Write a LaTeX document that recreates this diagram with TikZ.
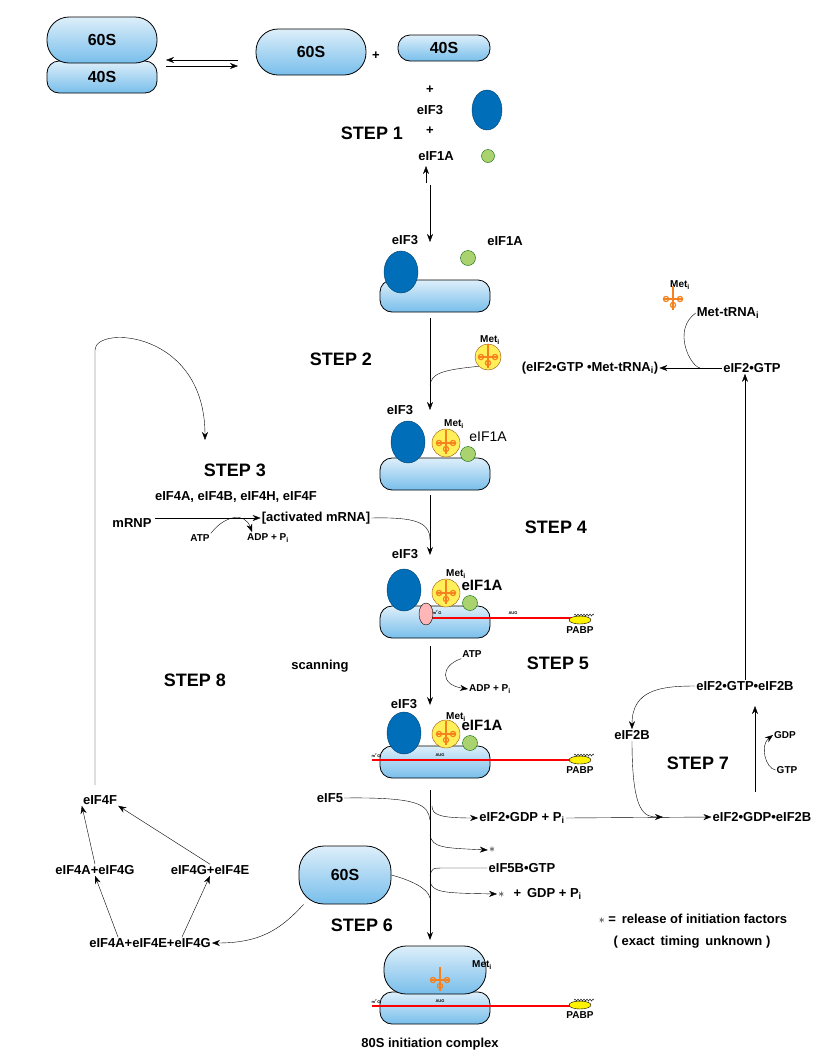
\documentclass[tikz,border=0pt]{standalone}
\usepackage{fontspec}
\setmainfont{Liberation Sans}
\setsansfont{Liberation Sans}
\usetikzlibrary{shapes.geometric,decorations.pathmorphing,arrows.meta}
\definecolor{eifblue}{RGB}{0,110,185}
\definecolor{ribo}{RGB}{120,190,235}
\definecolor{eifgreen}{RGB}{170,210,110}
\definecolor{eifyellow}{RGB}{255,240,90}
\definecolor{trnaor}{RGB}{245,130,30}
\tikzset{
  sub/.style={draw, thick, rounded corners=12pt, top color=ribo!25, middle color=ribo!50,
    bottom color=ribo, inner sep=0pt, font=\sffamily\bfseries\fontsize{16}{18}\selectfont},
  s40/.style={sub, minimum width=110, minimum height=32},
  s60/.style={sub, rounded corners=22pt, minimum width=110, minimum height=46},
  f3/.style={ellipse, draw=eifblue!60!black, fill=eifblue, minimum width=34,
    minimum height=42, inner sep=0pt},
  f1/.style={circle, draw=green!40!black, fill=eifgreen, minimum size=15, inner sep=0pt},
  f2/.style={circle, draw=orange!60!black, fill=eifyellow, minimum size=28, inner sep=0pt},
  lbl/.style={font=\bfseries\fontsize{13}{15}\selectfont, inner sep=1pt},
  steplbl/.style={font=\bfseries\fontsize{18}{20}\selectfont},
  smalllbl/.style={font=\bfseries\fontsize{10}{12}\selectfont, inner sep=1pt},
  tinylbl/.style={font=\bfseries\fontsize{4}{5}\selectfont, inner sep=0pt},
  trna/.style={draw=trnaor, line width=1.2pt},
  arr/.style={-{Stealth[length=8pt,width=6pt]}},
  mrna/.style={red, line width=1.2pt},
  pabp/.style={ellipse, draw=black, fill=yellow, minimum width=22, minimum height=8, inner sep=0pt},
}
\newcommand\trnaicon[1]{%
  \draw[trna] (#1) ++(0,-13) -- ++(0,24);
  \draw[trna] (#1) ++(-10,0) -- ++(20,0);
  \foreach \d in {(-7,0),(7,0),(0,6)} \draw[trna] (#1) ++\d circle (2.6);}
\newcommand\pabpicon[1]{%
  \node[pabp] (#1) {};
  \draw[decorate, decoration={snake, amplitude=1pt, segment length=3pt}] (#1.north west) ++(2,-2) -- ++(20,0);
  \node[smalllbl, below=1pt] at (#1.south) {PABP};}
\begin{document}
\begin{tikzpicture}[x=1pt, y=-1pt]
  \useasboundingbox (0,0) rectangle (830,1050);
  % free subunits
  \node[s40] (c40) at (102,77) {40S};
  \node[s60] (c60) at (102,40) {60S};
  \coordinate (h1) at (238,60); \coordinate (h2) at (166,60);
  \coordinate (h3) at (166,66); \coordinate (h4) at (238,66);
  \draw[arr] (h1) -- (h2); \draw[arr] (h3) -- (h4);
  \node[s60] (f60) at (311,52) {60S};
  \node[lbl] (plus1) at (376,56) {+};
  \node[s40, minimum width=92, minimum height=26] (f40) at (444,48) {40S};
  % step 1
  \node[lbl] at (430,90) {+};
  \node[lbl] (l3) at (430,110) {eIF3};
  \node[f3, minimum width=30, minimum height=40] (e3) at (487,110) {};
  \node[lbl] at (430,131) {+};
  \node[steplbl] at (372,133) {STEP 1};
  \node[lbl] (l1a) at (436,156) {eIF1A};
  \node[f1, minimum size=13] at (488,156) {};
  \coordinate (v0) at (430,185); \coordinate (v1) at (430,242);
  \coordinate (v0b) at (426,183); \coordinate (v0c) at (426,166);
  \draw[arr] (v0b) -- (v0c);
  \draw[arr] (v0) -- (v1);
  % complex 1
  \node[lbl] at (405,240) {eIF3};
  \node[s40] (r1) at (435,296) {};
  \node[f3] (b1) at (401,272) {};
  \node[f1] (g1) at (468,258) {};
  \node[lbl] at (505,241) {eIF1A};
  % step 2
  \node[steplbl] at (341,359) {STEP 2};
  \node[smalllbl] at (680,285) {Met\textsubscript{i}};
  \coordinate (t0) at (673,299); \trnaicon{t0}
  \node[lbl] (mtrna) at (728,313) {Met-tRNA\textsubscript{i}};
  \node[lbl] (g2gtp) at (752,368) {eIF2•GTP};
  \node[lbl] (tc) at (590,368) {(eIF2•GTP •Met-tRNA\textsubscript{i})};
  \node[f2, minimum size=26] (y0) at (488,357) {};
  \coordinate (t1) at (488,357); \trnaicon{t1}
  \node[smalllbl] at (490,340) {Met\textsubscript{i}};
  \draw[arr] (g2gtp) -- (tc);
  \draw (mtrna.west) .. controls (672,330) and (690,366) .. (700,368);
  \coordinate (v2) at (430,318); \coordinate (v3) at (430,410);
  \coordinate (j2) at (430,385);
  \draw[arr] (v2) -- (v3);
  \draw (y0.south west) .. controls (440,370) and (432,374) .. (j2);
  % complex 2
  \node[lbl] at (400,410) {eIF3};
  \node[s40] (r2) at (435,474) {};
  \node[f3] (b2) at (408,442) {};
  \node[f2] (y2) at (446,443) {};
  \coordinate (t2) at (446,443); \trnaicon{t2}
  \node[f1] (g2) at (468,454) {};
  \node[smalllbl] at (454,424) {Met\textsubscript{i}};
  \node[font=\fontsize{14}{16}\selectfont] at (488,437) {eIF1A};
  % step 3
  \draw[arr] (95,785) -- (95,350) .. controls (95,325) and (205,330) .. (205,440);
  \node[steplbl] at (235,470) {STEP 3};
  \node[lbl] at (236,497) {eIF4A, eIF4B, eIF4H, eIF4F};
  \node[lbl] (mrnp) at (132,523) {mRNP};
  \node[lbl] (act) at (316,518) {[activated mRNA]};
  \node[smalllbl] (atp1) at (200,538) {ATP};
  \node[smalllbl] (adp1) at (268,538) {ADP + P\textsubscript{i}};
  \draw[arr] (mrnp.east) ++(2,-5) -- (act.west);
  \draw[arr] (atp1.north east) .. controls (225,515) and (245,512) .. (252,532);
  \coordinate (v4) at (430,495); \coordinate (v5) at (430,555);
  \coordinate (j4) at (430,540);
  \draw[arr, thick] (v4) -- (v5);
  \draw (act.east) .. controls (415,517) and (430,522) .. (j4);
  \node[steplbl] at (556,527) {STEP 4};
  % complex 3
  \node[lbl] at (405,554) {eIF3};
  \node[s40] (r3) at (435,622) {};
  \node[f3] (b3) at (404,590) {};
  \node[f2] (y3) at (446,593) {};
  \coordinate (t3) at (446,593); \trnaicon{t3}
  \node[f1] (g3) at (470,603) {};
  \node[smalllbl] at (456,574) {Met\textsubscript{i}};
  \node[lbl, font=\bfseries\fontsize{15}{17}\selectfont] at (482,585) {eIF1A};
  \coordinate (m3a) at (420,618); \coordinate (m3b) at (572,618);
  \draw[mrna] (m3a) -- (m3b);
  \node[ellipse, draw=black, fill=pink!70!red!60, minimum width=14, minimum height=22] at (426,614) {};
  \node[tinylbl] at (437,613) {m\textsuperscript{7}G};
  \node[tinylbl] at (513,613) {AUG};
  \begin{scope}[shift={(580,620)}]\pabpicon{p3}\end{scope}
  % step 5
  \node[lbl] at (320,666) {scanning};
  \node[smalllbl] (atp2) at (472,654) {ATP};
  \node[smalllbl] (adp2) at (490,689) {ADP + P\textsubscript{i}};
  \coordinate (v6) at (430,646); \coordinate (v7) at (430,705);
  \draw[arr, thick] (v6) -- (v7);
  \draw[arr] (atp2.south west) .. controls (440,666) and (440,685) .. (adp2.west);
  \node[steplbl] at (558,663) {STEP 5};
  \node[steplbl] at (195,680) {STEP 8};
  % complex 4
  \node[lbl] at (404,704) {eIF3};
  \node[s40] (r4) at (435,762) {};
  \node[f3] (b4) at (404,733) {};
  \node[f2] (y4) at (446,734) {};
  \coordinate (t4) at (446,734); \trnaicon{t4}
  \node[f1] (g4) at (470,743) {};
  \node[smalllbl] at (456,717) {Met\textsubscript{i}};
  \node[lbl, font=\bfseries\fontsize{15}{17}\selectfont] at (482,725) {eIF1A};
  \coordinate (m4a) at (372,760); \coordinate (m4b) at (572,760);
  \draw[mrna] (m4a) -- (m4b);
  \node[tinylbl] at (376,756) {m\textsuperscript{7}G};
  \node[tinylbl] at (440,755) {AUG};
  \begin{scope}[shift={(580,760)}]\pabpicon{p4}\end{scope}
  % step 7
  \node[lbl] (gtpb) at (745,686) {eIF2•GTP•eIF2B};
  \node[lbl] (e2b) at (632,735) {eIF2B};
  \node[smalllbl] (gdp7) at (785,735) {GDP};
  \node[smalllbl] (gtp7) at (787,770) {GTP};
  \node[steplbl] at (698,763) {STEP 7};
  \node[lbl] (gdpb) at (762,817) {eIF2•GDP•eIF2B};
  \coordinate (u1) at (755,792); \coordinate (u2) at (755,706);
  \draw[arr] (gtpb.north) -- (gtpb.north |- g2gtp.south);
  \draw[arr] (u1) -- (u2);
  \draw[arr] (gtp7.west) .. controls (765,768) and (760,745) .. (gdp7.west);
  \draw[arr] (gtpb.west) .. controls (660,686) and (632,690) .. (e2b.north);
  \draw[arr] (e2b.south) .. controls (632,815) and (645,817) .. (663,817);
  % step 6
  \node[lbl] (e5) at (330,798) {eIF5};
  \node[lbl] (gdp6) at (522,818) {eIF2•GDP + P\textsubscript{i}};
  \node[lbl] (st1) at (492,850) {$\ast$};
  \node[lbl] (e5b) at (522,868) {eIF5B•GTP};
  \node[lbl] (st2) at (540,894) {$\ast$ \, + \,GDP + P\textsubscript{i}};
  \draw[arr] (gdp6.east) -- (gdpb.west);
  \coordinate (v8) at (430,790); \coordinate (v9) at (430,940);
  \coordinate (j8) at (430,820); \coordinate (j9) at (430,835);
  \coordinate (j10) at (430,876); \coordinate (j11) at (430,898);
  \draw[arr, thick] (v8) -- (v9);
  \draw (e5.east) .. controls (420,797) and (428,805) .. (j8);
  \draw[arr] (j8) ++(2,-14) .. controls (432,815) and (440,818) .. (gdp6.west);
  \draw[arr] (j9) .. controls (432,848) and (445,848) .. (st1.west);
  \draw (e5b.west) -- (445,868) .. controls (432,868) .. (j10);
  \draw[arr] (j10) ++(0,5) .. controls (432,893) and (445,893) .. (st2.west);
  \node[s60, minimum width=92, minimum height=58, rounded corners=25pt] (r60) at (345,875) {60S};
  \draw (r60.east) .. controls (410,880) and (428,888) .. (j11);
  \node[lbl] (mix) at (150,943) {eIF4A+eIF4E+eIF4G};
  \draw[arr] (r60.south west) ++(5,0) .. controls (280,930) and (260,943) .. (mix.east);
  \node[steplbl] at (362,925) {STEP 6};
  \node[lbl] at (693,919) {$\ast$ =\, release of initiation factors};
  \node[lbl] at (692,942) {( exact\, timing\, unknown )};
  % step 8 factors
  \node[lbl] (e4f) at (100,800) {eIF4F};
  \node[lbl] (ag) at (95,870) {eIF4A+eIF4G};
  \node[lbl] (ge) at (210,870) {eIF4G+eIF4E};
  \draw[arr] (mix.north west) ++(30,0) -- (ag.south);
  \draw[arr] (mix.north east) ++(-30,0) -- (ge.south);
  \draw[arr] (ag.north) -- (e4f.south west);
  \draw[arr] (ge.north) -- (e4f.south east);
  % 80S complex
  \node[s40] (r5) at (435,1008) {};
  \node[s60, minimum width=102, minimum height=48] (r6) at (435,970) {};
  \coordinate (t5) at (440,980); \trnaicon{t5}
  \node[smalllbl] at (482,965) {Met\textsubscript{i}};
  \coordinate (m5a) at (372,1006); \coordinate (m5b) at (572,1006);
  \draw[mrna] (m5a) -- (m5b);
  \node[tinylbl] at (376,1002) {m\textsuperscript{7}G};
  \node[tinylbl] at (440,1001) {AUG};
  \begin{scope}[shift={(580,1005)}]\pabpicon{p5}\end{scope}
  \node[lbl] at (430,1044) {80S initiation complex};
\end{tikzpicture}
\end{document}
